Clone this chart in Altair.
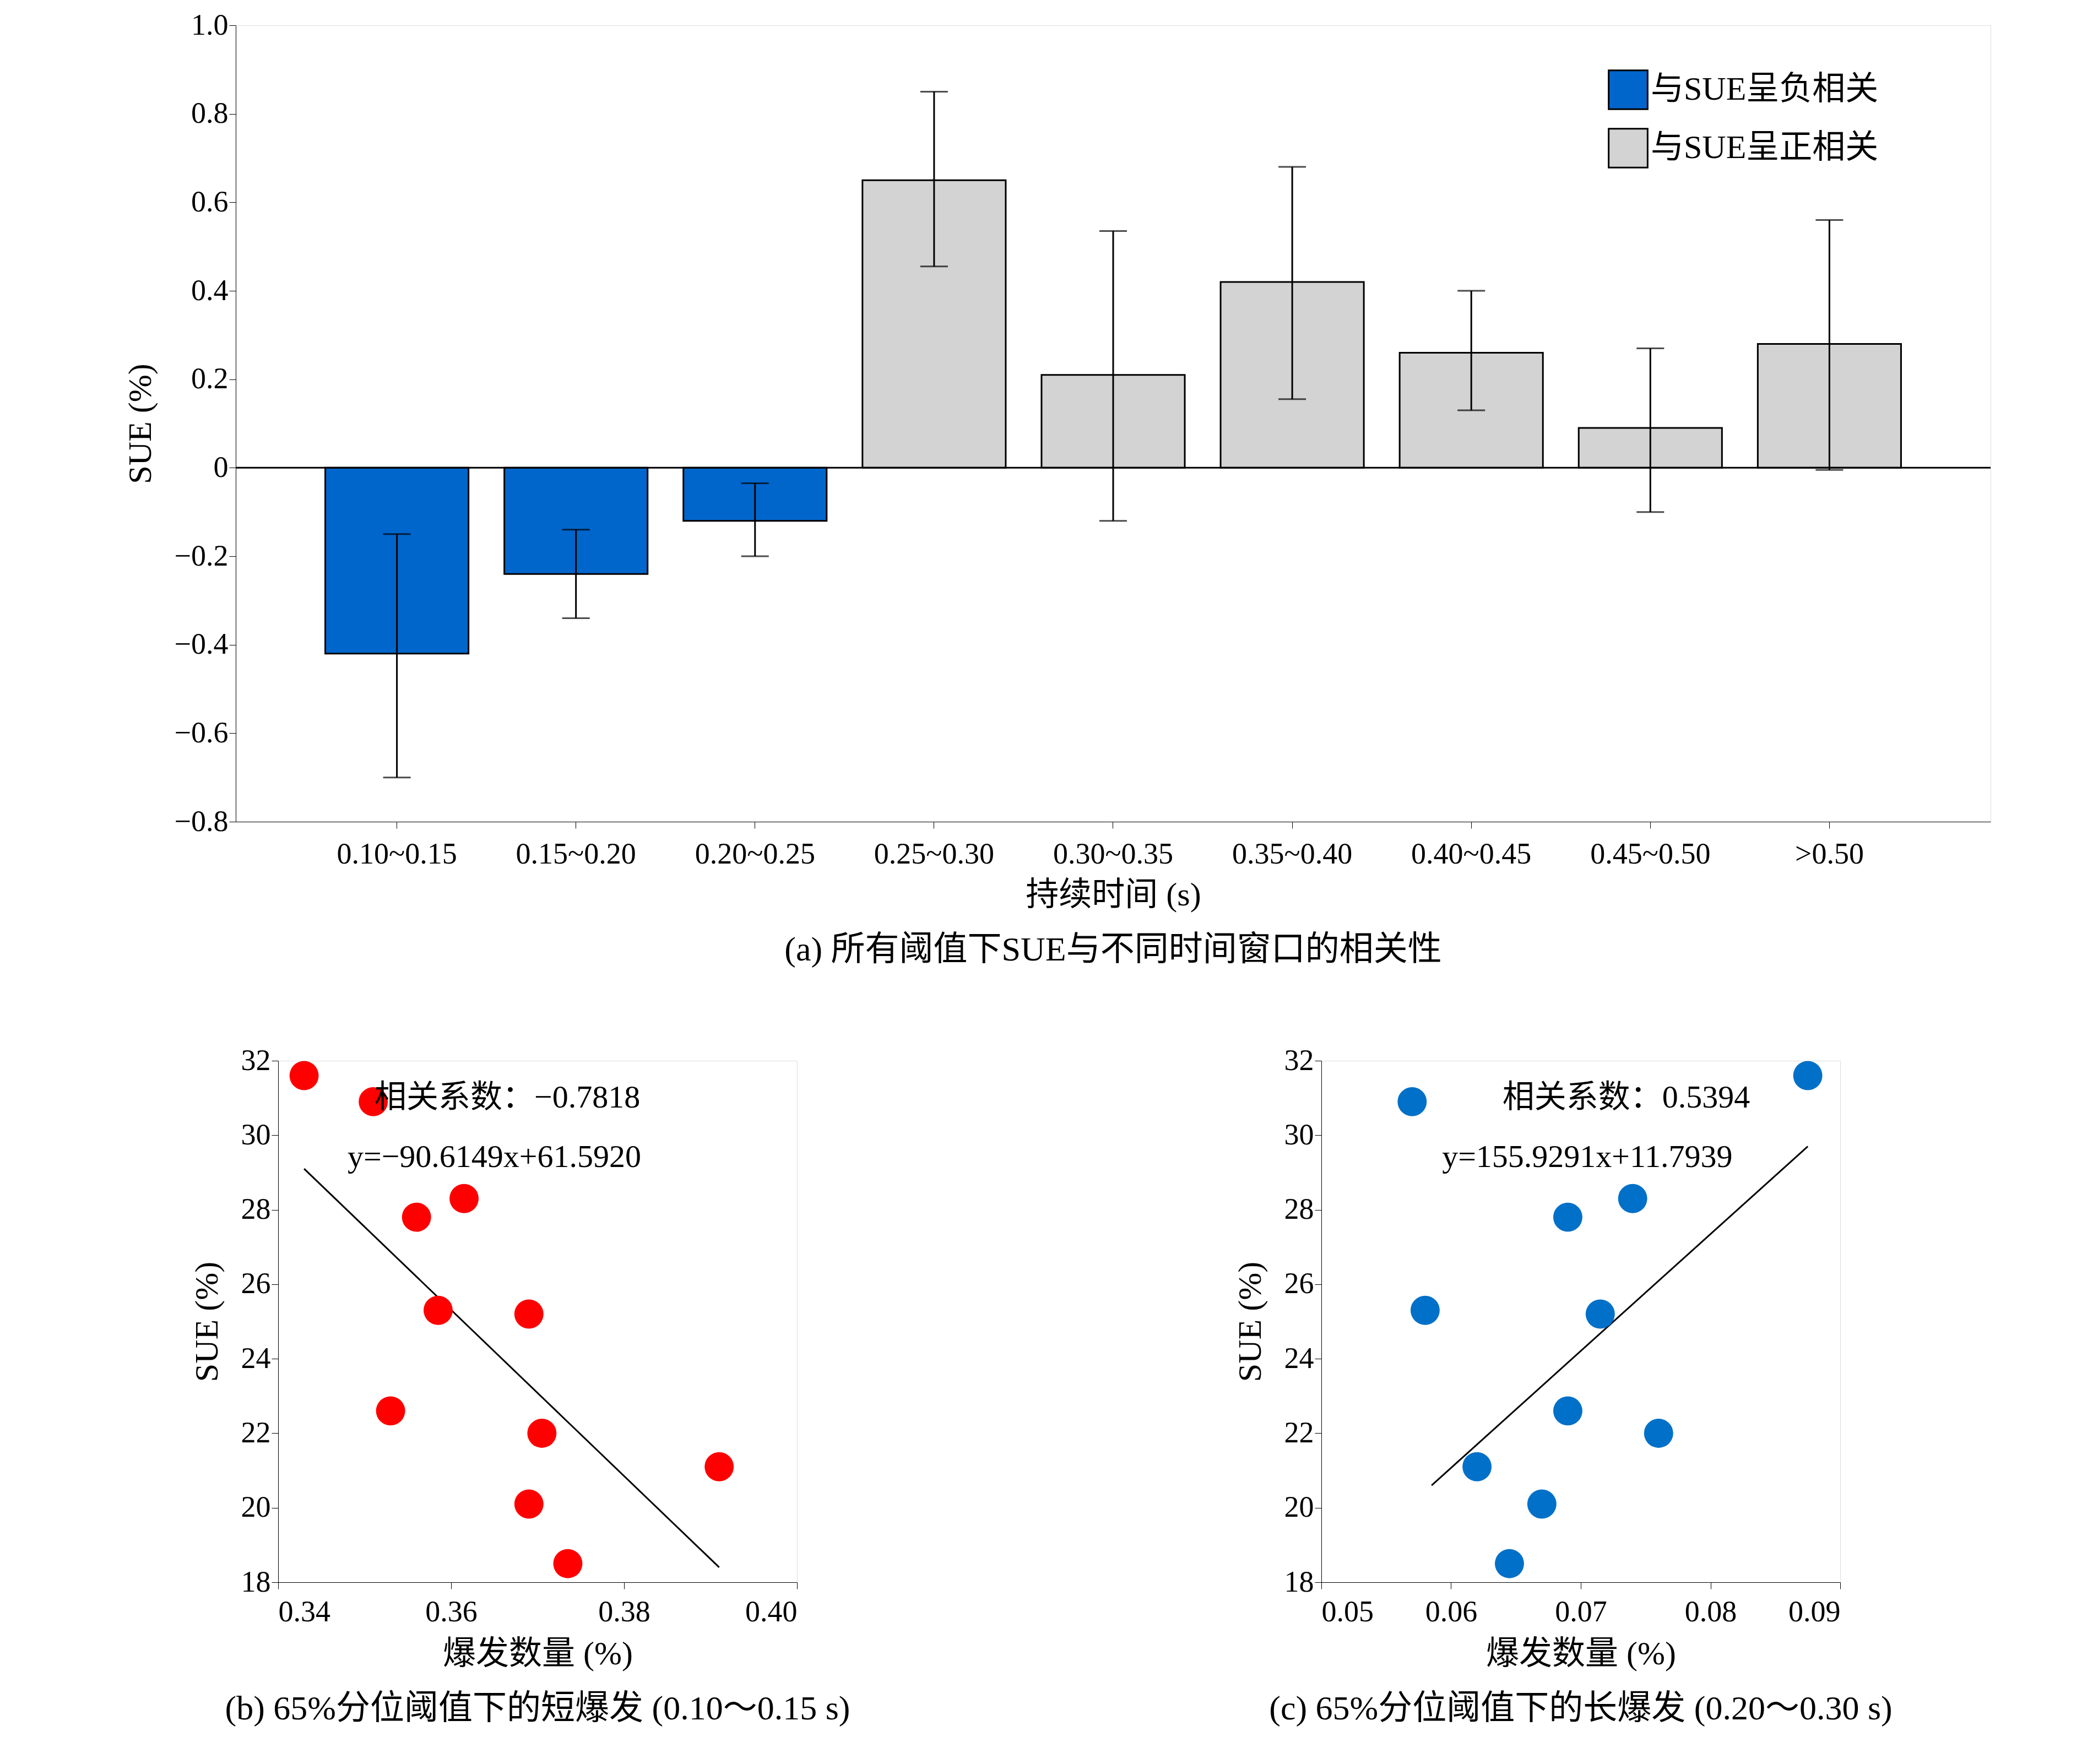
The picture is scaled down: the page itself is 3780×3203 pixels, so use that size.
import altair as alt
import pandas as pd

FONT = "Liberation Serif, Noto Sans CJK SC"

# top panel
windows = ["0.10~0.15", "0.15~0.20", "0.20~0.25", "0.25~0.30", "0.30~0.35",
           "0.35~0.40", "0.40~0.45", "0.45~0.50", ">0.50"]
sue = [-0.42, -0.24, -0.12, 0.65, 0.21, 0.42, 0.26, 0.09, 0.28]
err_lo = [-0.70, -0.34, -0.20, 0.455, -0.12, 0.155, 0.13, -0.10, -0.005]
err_hi = [-0.15, -0.14, -0.035, 0.85, 0.535, 0.68, 0.40, 0.27, 0.56]
kind = ["与SUE呈负相关"] * 3 + ["与SUE呈正相关"] * 6

# panel b
b_x = [0.343, 0.351, 0.356, 0.3615, 0.3585, 0.369, 0.353, 0.3705, 0.391, 0.369, 0.3735]
b_y = [31.6, 30.9, 27.8, 28.3, 25.3, 25.2, 22.6, 22.0, 21.1, 20.1, 18.5]
b_line_x = [0.343, 0.391]
b_line_y = [29.1, 18.4]

# panel c
c_x = [0.057, 0.0875, 0.069, 0.074, 0.058, 0.0715, 0.069, 0.076, 0.062, 0.067, 0.0645]
c_y = [30.9, 31.6, 27.8, 28.3, 25.3, 25.2, 22.6, 22.0, 21.1, 20.1, 18.5]
c_line_x = [0.0585, 0.0875]
c_line_y = [20.6, 29.7]

df = pd.DataFrame({"win": windows, "sue": sue, "lo": err_lo, "hi": err_hi, "kind": kind})

axis_style = dict(labelFont=FONT, titleFont=FONT, labelFontSize=54, titleFontSize=60,
                  titleFontWeight="normal", labelColor="black", titleColor="black",
                  domainColor="black", tickColor="black", grid=False, tickSize=12,
                  labelLimit=0)

x_bar = alt.X("win:N", sort=windows, title="持续时间 (s)",
              scale=alt.Scale(paddingInner=0.2, paddingOuter=0.5),
              axis=alt.Axis(labelAngle=0, labelPadding=20, titlePadding=18, **axis_style))
y_bar = alt.Y("sue:Q", title="SUE (%)", scale=alt.Scale(domain=[-0.8, 1.0], nice=False),
              axis=alt.Axis(values=[-0.8, -0.6, -0.4, -0.2, 0, 0.2, 0.4, 0.6, 0.8, 1.0],
                            labelExpr="datum.value == 0 ? '0' : format(datum.value, '.1f')",
                            titlePadding=30, **axis_style))
bars = alt.Chart(df).mark_bar(stroke="black", strokeWidth=3).encode(
    x=x_bar, y=y_bar,
    color=alt.Color("kind:N", scale=alt.Scale(domain=["与SUE呈负相关", "与SUE呈正相关"],
                                              range=["#0066cc", "#d3d3d3"]),
                    legend=alt.Legend(title=None, orient="none", legendX=2706, legendY=80,
                                      symbolType="square", symbolSize=5000, symbolStrokeColor="black",
                                      symbolStrokeWidth=3, labelFont=FONT, labelFontSize=60,
                                      labelLimit=0, rowPadding=22)),
)
errs = alt.Chart(df).mark_errorbar(ticks=alt.TickConfig(size=50, thickness=3), thickness=3,
                                   color="black").encode(
    x=alt.X("win:N", sort=windows), y=alt.Y("lo:Q", title="SUE (%)"), y2="hi:Q")
zero = alt.Chart(pd.DataFrame({"z": [0]})).mark_rule(color="black", strokeWidth=3).encode(y="z:Q")
top = alt.layer(bars, zero, errs).properties(
    width=3186, height=1446,
    title=alt.TitleParams("(a) 所有阈值下SUE与不同时间窗口的相关性", orient="bottom",
                          font=FONT, fontSize=62, fontWeight="normal", offset=40))


def scatter(xs, ys, lx, ly, color, xdom, xticks, ann1, ann2, ann_x1, ann_x2, caption):
    d = pd.DataFrame({"x": xs, "y": ys})
    ld = pd.DataFrame({"x": lx, "y": ly})
    xe = alt.X("x:Q", title="爆发数量 (%)", scale=alt.Scale(domain=xdom, nice=False, zero=False),
               axis=alt.Axis(values=xticks, format=".2f", labelPadding=15, titlePadding=20, **axis_style))
    ye = alt.Y("y:Q", title="SUE (%)", scale=alt.Scale(domain=[18, 32], nice=False, zero=False),
               axis=alt.Axis(values=list(range(18, 33, 2)), titlePadding=30, **axis_style))
    pts = alt.Chart(d).mark_point(filled=True, shape="circle", size=2800, color=color,
                                  opacity=1).encode(x=xe, y=ye)
    line = alt.Chart(ld).mark_line(color="black", strokeWidth=3).encode(x=xe, y=ye)
    ann = pd.DataFrame({"x": [ann_x1, ann_x2], "y": [31.0, 29.4], "t": [ann1, ann2]})
    txt = alt.Chart(ann).mark_text(font=FONT, fontSize=58, align="center").encode(
        x=xe, y=ye, text="t:N")
    return alt.layer(line, pts, txt).properties(
        width=942, height=947,
        title=alt.TitleParams(caption, orient="bottom", font=FONT, fontSize=62,
                              fontWeight="normal", offset=40))


pb = scatter(b_x, b_y, b_line_x, b_line_y, "#ff0000", [0.34, 0.40], [0.34, 0.36, 0.38, 0.40],
             "相关系数：−0.7818", "y=−90.6149x+61.5920", 0.3665, 0.3650,
             "(b) 65%分位阈值下的短爆发 (0.10～0.15 s)")
pc = scatter(c_x, c_y, c_line_x, c_line_y, "#0070c8", [0.05, 0.09], [0.05, 0.06, 0.07, 0.08, 0.09],
             "相关系数：0.5394", "y=155.9291x+11.7939", 0.0735, 0.0705,
             "(c) 65%分位阈值下的长爆发 (0.20～0.30 s)")


def spacer(w):
    return alt.Chart(pd.DataFrame({"a": [0]})).mark_point(opacity=0).encode(
        x=alt.value(0), y=alt.value(0)).properties(width=w, height=10,
                                                   view=alt.ViewBackground(stroke="transparent"))


top_row = alt.hconcat(spacer(10), top, spacing=0)
bottom = alt.hconcat(spacer(131), pb, spacer(690), pc, spacing=0)

chart = alt.vconcat(top_row, bottom, spacing=141).configure_view(
    stroke="black", strokeWidth=3).configure(background="white", padding={"left": 201, "top": 10, "right": 20, "bottom": 20})
chart.save("out.html", embed_options={"renderer": "svg", "actions": False})
